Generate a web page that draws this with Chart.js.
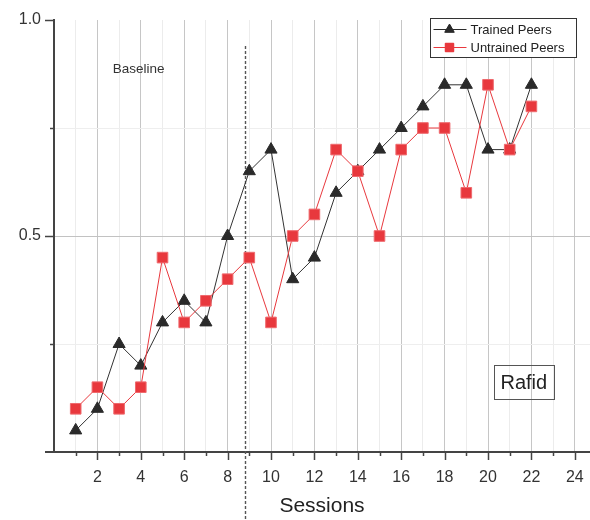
<!DOCTYPE html>
<html><head><meta charset="utf-8">
<script src="https://cdn.jsdelivr.net/npm/chart.js@4.4.1/dist/chart.umd.min.js"></script>
<style>html,body{margin:0;padding:0;background:#fff}#wrap{width:590px;height:520px;position:relative}</style>
</head><body><div id="wrap"><canvas id="c" width="590" height="520"></canvas></div>
<script>
const sessions = [1,2,3,4,5,6,7,8,9,10,11,12,13,14,15,16,17,18,19,20,21,22];
const trainedPeers = [0.05,0.10,0.25,0.20,0.30,0.35,0.30,0.50,0.65,0.70,0.40,0.45,0.60,0.65,0.70,0.75,0.80,0.85,0.85,0.70,0.70,0.85];
const untrainedPeers = [0.10,0.15,0.10,0.15,0.45,0.30,0.35,0.40,0.45,0.30,0.50,0.55,0.70,0.65,0.50,0.70,0.75,0.75,0.60,0.85,0.70,0.80];
const xTickLabels = ['2','4','6','8','10','12','14','16','18','20','22','24'];
const yTickLabels = ['0.5','1.0'];
const seriesNames = ['Trained Peers','Untrained Peers'];
const phaseChangeSession = 8.8;
const phaseLabel = 'Baseline';
const participantName = 'Rafid';

const FONT = "'Liberation Sans', Arial, sans-serif";
Chart.defaults.font.family = FONT;

const trainedColor = '#2a2a2a';
const untrainedColor = '#e8383d';

const overlay = {
  id: 'overlay',
  beforeDatasetsDraw(chart) {
    const {ctx, scales:{x, y}} = chart;
    ctx.save();
    ctx.strokeStyle = '#555';
    ctx.lineWidth = 1.4;
    ctx.setLineDash([3, 2]);
    const px = Math.round(x.getPixelForValue(phaseChangeSession)) + 0.5;
    ctx.beginPath();
    ctx.moveTo(px, y.getPixelForValue(0.94));
    ctx.lineTo(px, chart.height);
    ctx.stroke();
    ctx.restore();
  },
  afterDraw(chart) {
    const {ctx, chartArea, scales:{x, y}} = chart;
    ctx.save();
    // tick marks
    ctx.strokeStyle = '#444';
    ctx.lineWidth = 1.5;
    const b = chartArea.bottom;
    for (let v = 1; v <= 24; v++) {
      const px = Math.round(x.getPixelForValue(v)) + 0.5;
      const len = v % 2 === 0 ? 8 : 4;
      ctx.beginPath(); ctx.moveTo(px, b); ctx.lineTo(px, b + len); ctx.stroke();
    }
    const l = chartArea.left;
    [0.25, 0.5, 0.75, 1.0].forEach(v => {
      const py = Math.round(y.getPixelForValue(v)) + 0.5;
      const len = (v === 0.5 || v === 1.0) ? 9 : 4;
      ctx.beginPath(); ctx.moveTo(l, py); ctx.lineTo(l - len, py); ctx.stroke();
    });
    // x axis extension to the left
    ctx.lineWidth = 2;
    ctx.beginPath(); ctx.moveTo(l - 9, b); ctx.lineTo(l, b); ctx.stroke();

    // Baseline label
    ctx.fillStyle = '#333';
    ctx.font = '13.5px ' + FONT;
    ctx.textAlign = 'center';
    ctx.textBaseline = 'middle';
    ctx.fillText(phaseLabel, x.getPixelForValue(3.9), y.getPixelForValue(0.885));

    // participant box
    const cx = x.getPixelForValue(21.65), cy = y.getPixelForValue(0.162);
    ctx.font = '20px ' + FONT;
    ctx.fillStyle = '#222';
    ctx.fillText(participantName, cx, cy + 1);
    ctx.strokeStyle = '#555';
    ctx.lineWidth = 1;
    ctx.strokeRect(Math.round(cx - 30) + 0.5, Math.round(cy - 17) + 0.5, 60, 34);

    // legend
    const lx = Math.round(chartArea.right - 160) + 0.5, ly = Math.round(chartArea.top - 2) + 0.5;
    ctx.fillStyle = '#fff';
    ctx.fillRect(lx, ly, 146, 39);
    ctx.strokeStyle = '#333';
    ctx.strokeRect(lx, ly, 146, 39);
    const rows = [
      {name: seriesNames[0], color: trainedColor, style: 'triangle', r: 5.5},
      {name: seriesNames[1], color: untrainedColor, style: 'rect', r: 6},
    ];
    rows.forEach((row, i) => {
      const ry = ly + 11 + i * 18;
      ctx.strokeStyle = row.color;
      ctx.lineWidth = 1;
      ctx.beginPath(); ctx.moveTo(lx + 3, ry); ctx.lineTo(lx + 36, ry); ctx.stroke();
      ctx.fillStyle = row.color;
      Chart.helpers.drawPoint(ctx, {pointStyle: row.style, radius: row.r, borderWidth: 1}, lx + 19, ry);
      ctx.fill();
      ctx.fillStyle = '#222';
      ctx.font = '13px ' + FONT;
      ctx.textAlign = 'left';
      ctx.textBaseline = 'middle';
      ctx.fillText(row.name, lx + 40, ry + 0.5);
    });
    ctx.restore();
  }
};

new Chart(document.getElementById('c'), {
  type: 'line',
  data: {
    datasets: [
      {
        label: seriesNames[0],
        data: sessions.map((s, i) => ({x: s, y: trainedPeers[i]})),
        borderColor: '#333',
        borderWidth: 1,
        pointStyle: 'triangle',
        pointRadius: 7,
        pointBackgroundColor: trainedColor,
        pointBorderColor: trainedColor,
        pointBorderWidth: 1,
        order: 2
      },
      {
        label: seriesNames[1],
        data: sessions.map((s, i) => ({x: s, y: untrainedPeers[i]})),
        borderColor: untrainedColor,
        borderWidth: 1,
        pointStyle: 'rect',
        pointRadius: 7.5,
        pointBackgroundColor: untrainedColor,
        pointBorderColor: '#ef6a6e',
        pointBorderWidth: 1,
        order: 1
      }
    ]
  },
  options: {
    responsive: false,
    animation: false,
    layout: {autoPadding: false, padding: {top: 20, right: 0, left: 0, bottom: 0}},
    plugins: {legend: {display: false}, tooltip: {enabled: false}},
    scales: {
      x: {
        type: 'linear',
        min: 0, max: 24.7,
        afterBuildTicks: s => {
          const t = [];
          for (let v = 0; v <= 24; v++) t.push({value: v});
          s.ticks = t;
        },
        afterFit: s => { s.height = 68; s.paddingRight = 0; s.paddingLeft = 0; },
        ticks: {
          stepSize: 1,
          autoSkip: false,
          maxRotation: 0,
          padding: 16,
          color: '#333',
          font: {size: 16},
          callback: v => xTickLabels.includes(String(v)) ? String(v) : ''
        },
        grid: {
          drawTicks: false,
          lineWidth: 1,
          color: c => {
            const v = c.tick && c.tick.value;
            if (!v) return 'rgba(0,0,0,0)';
            return v % 2 === 0 ? '#c6c6c6' : '#ececec';
          }
        },
        border: {color: '#444', width: 2},
        title: {display: true, text: 'Sessions', color: '#222', font: {size: 21}, padding: {top: 0, bottom: 1}}
      },
      y: {
        min: 0, max: 1,
        afterFit: s => { s.width = 54; s.paddingTop = 0; s.paddingBottom = 0; },
        ticks: {
          stepSize: 0.25,
          padding: 13,
          color: '#333',
          font: {size: 16},
          callback: v => { const lab = yTickLabels.find(t => Number(t) === v); return lab || ''; }
        },
        grid: {
          drawTicks: false,
          color: c => {
            const v = c.tick && c.tick.value;
            if (v === 0.5) return '#c2c2c2';
            if (v === 0.25 || v === 0.75) return '#eeeeee';
            return 'rgba(0,0,0,0)';
          }
        },
        border: {color: '#444', width: 2}
      }
    }
  },
  plugins: [overlay]
});
</script>
</body></html>
